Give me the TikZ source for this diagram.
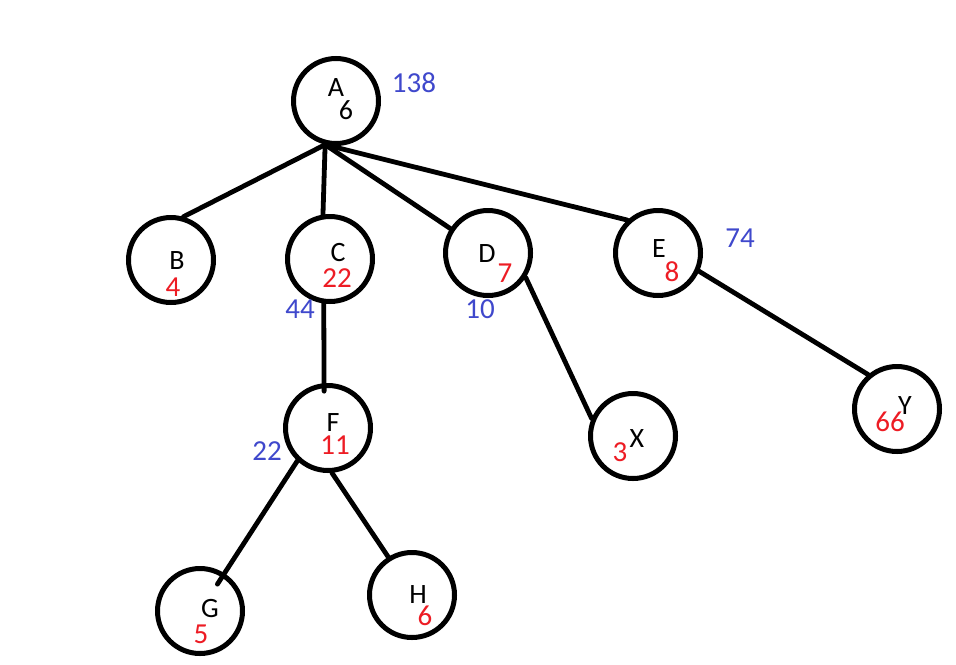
\documentclass[tikz,border=0pt]{standalone}
\usepackage{fontspec}
\setmainfont{Carlito}
\usepackage{xcolor}
\usetikzlibrary{calc}
\definecolor{clrKey}{HTML}{ED1C24}
\definecolor{clrSum}{HTML}{3F48CC}

\begin{document}
\begin{tikzpicture}[x=0.5pt, y=-0.5pt,
    vertex/.style={circle, draw=black, fill=white, line width=2.5pt, minimum size=42.5pt, inner sep=0pt},
    tag/.style={font=\fontsize{14}{16}\selectfont, inner sep=0pt, text=black},
    keyval/.style={font=\fontsize{14.5}{16}\selectfont, inner sep=0pt, text=clrKey},
    subsum/.style={font=\fontsize{14.5}{16}\selectfont, inner sep=0pt, text=clrSum},
    link/.style={line width=2.4pt, line cap=round},
]
\useasboundingbox[fill=white] (0,0) rectangle (956,664);

% Vertices
\node[vertex] (A) at (336,101) {};
\node[vertex] (B) at (171,260) {};
\node[vertex] (C) at (330,259) {};
\node[vertex] (D) at (488,253) {};
\node[vertex] (E) at (658,253) {};
\node[vertex] (F) at (328,428) {};
\node[vertex] (X) at (633,436) {};
\node[vertex] (Y) at (897,409) {};
\node[vertex] (G) at (200,611) {};
\node[vertex] (H) at (412,595) {};

% Links
\draw[link] (A.256) -- (B.74);
\draw[link] (A.256) -- (C.99);
\draw[link] (A.256) -- (D.147);
\draw[link] (A.256) -- (E.133);
\draw[link, shorten >=-4pt] (C.262) -- (F.95);
\draw[link] (D.327) -- (X.157);
\draw[link] (E.336) -- (Y.130);
\draw[link, shorten >=16pt] (F.227) -- (G.center);
\draw[link] (F.275) -- (H.122);

% Letters
\node[tag] (A-tag) at (336,88) {A};
\node[tag] (B-tag) at (177,261) {B};
\node[tag] (C-tag) at (338,253) {C};
\node[tag] (D-tag) at (487,254) {D};
\node[tag] (E-tag) at (659,249) {E};
\node[tag] (F-tag) at (333,423) {F};
\node[tag] (X-tag) at (637,439) {X};
\node[tag] (Y-tag) at (905,406) {Y};
\node[tag] (G-tag) at (210,608) {G};
\node[tag] (H-tag) at (418,595) {H};

% Values
\node[tag] (A-val) at (346,110) {6};
\node[keyval] (B-val) at (173,287) {4};
\node[keyval] (C-val) at (337,278) {22};
\node[keyval] (D-val) at (505,273) {7};
\node[keyval] (E-val) at (672,272) {8};
\node[keyval] (F-val) at (335,445) {11};
\node[keyval] (X-val) at (620,452) {3};
\node[keyval] (Y-val) at (890,422) {66};
\node[keyval] (G-val) at (201,634) {5};
\node[keyval] (H-val) at (425,616) {6};

% Sums
\node[subsum] (A-sum) at (414,83) {138};
\node[subsum] (C-sum) at (300,309) {44};
\node[subsum] (D-sum) at (480,309) {10};
\node[subsum] (E-sum) at (740,238) {74};
\node[subsum] (F-sum) at (267,451) {22};

\end{tikzpicture}
\end{document}
